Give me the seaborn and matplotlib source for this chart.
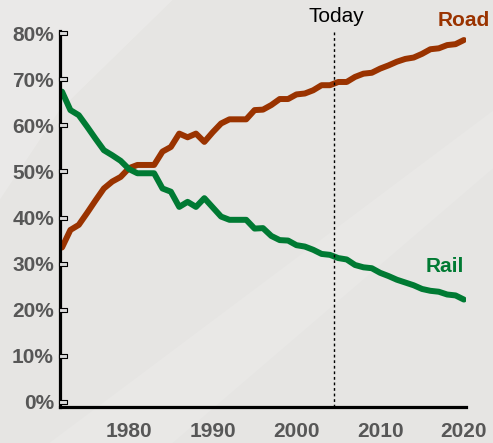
import numpy as np
import pandas as pd
import seaborn as sns
import matplotlib
matplotlib.use("Agg")
import matplotlib.pyplot as plt
from matplotlib import transforms
from matplotlib.patches import Polygon

# modal share of freight, yearly (percent)
years = list(range(1972, 2021))
road = [33.5, 37.3, 38.4, 41.0, 43.7, 46.3, 47.8, 48.8, 50.7, 51.4,
        51.4, 51.4, 54.3, 55.3, 58.2, 57.4, 58.2, 56.4, 58.5, 60.4,
        61.3, 61.3, 61.3, 63.3, 63.4, 64.4, 65.7, 65.7, 66.7, 66.9,
        67.6, 68.7, 68.7, 69.4, 69.4, 70.5, 71.2, 71.4, 72.3, 73.0,
        73.8, 74.4, 74.7, 75.5, 76.5, 76.7, 77.4, 77.6, 78.5]
rail = [67.3, 63.3, 62.2, 59.7, 57.1, 54.6, 53.5, 52.3, 50.5, 49.6,
        49.6, 49.6, 46.3, 45.6, 42.3, 43.4, 42.3, 44.2, 42.2, 40.2,
        39.5, 39.5, 39.5, 37.6, 37.7, 36.0, 35.1, 35.0, 34.0, 33.7,
        33.0, 32.1, 31.9, 31.2, 30.9, 29.7, 29.2, 29.0, 28.0, 27.3,
        26.5, 25.9, 25.3, 24.5, 24.1, 23.9, 23.3, 23.1, 22.2]
today_year = 2004.5
x_ticks = [1980, 1990, 2000, 2010, 2020]
y_ticks = [0, 10, 20, 30, 40, 50, 60, 70, 80]

ROAD_COLOR = "#9a3300"
RAIL_COLOR = "#007a33"
BG = "#e6e5e3"

df = pd.DataFrame({"year": years, "Road": road, "Rail": rail})
dfm = df.melt(id_vars=["year"], value_vars=["Road", "Rail"], var_name="mode")

sns.set_style("white")
plt.rcParams["font.family"] = ["Liberation Sans", "DejaVu Sans"]

fig = plt.figure(figsize=(4.93, 4.43), dpi=100, facecolor=BG)

# faint lighter swooshes in the background
fig.patches.append(Polygon([(0, 0.55), (0, 1), (0.35, 1), (0.12, 0.75)],
                           closed=True, transform=fig.transFigure,
                           facecolor="white", alpha=0.18, lw=0, zorder=-5))
fig.patches.append(Polygon([(0.1, 0), (0.35, 0), (1, 0.62), (1, 0.75)],
                           closed=True, transform=fig.transFigure,
                           facecolor="white", alpha=0.12, lw=0, zorder=-5))

ax = fig.add_axes([0.1207, 0.0813, 0.8245, 0.8476])
ax.set_facecolor("none")

sns.lineplot(data=dfm, x="year", y="value", hue="mode",
             palette={"Road": ROAD_COLOR, "Rail": RAIL_COLOR},
             linewidth=4.3, legend=False, ax=ax)

ax.set_xlim(1971.7, 2020.25)
ax.set_ylim(-1.1, 80.35)

# dotted "today" line
ax.axvline(today_year, ymin=0, ymax=1.0, color="black", lw=1,
           linestyle=(0, (2, 2)))
trans = transforms.blended_transform_factory(ax.transData, ax.transAxes)
ax.text(today_year + 0.3, 1.039, "Today", transform=trans, ha="center",
        va="center", fontsize=15, color="black", clip_on=False)

ax.text(2023.1, 82.8, "Road", ha="right", va="center", fontsize=15,
        fontweight="bold", color=ROAD_COLOR, clip_on=False)
ax.text(2017.7, 29.3, "Rail", ha="center", va="center", fontsize=15,
        fontweight="bold", color=RAIL_COLOR, clip_on=False)

# spines
for s in ["top", "right"]:
    ax.spines[s].set_visible(False)
for s in ["left", "bottom"]:
    ax.spines[s].set_color("black")
    ax.spines[s].set_linewidth(2.3)

ax.set_xticks(x_ticks)
ax.set_xticklabels([str(t) for t in x_ticks])
ax.set_yticks(y_ticks)
ax.set_yticklabels([f"{t}%" for t in y_ticks])
ax.tick_params(axis="both", length=0, labelsize=15, labelcolor="#575757")
ax.tick_params(axis="y", pad=4)
ax.tick_params(axis="x", pad=11)
for lbl in ax.get_xticklabels() + ax.get_yticklabels():
    lbl.set_fontweight("bold")

# small hollow tick boxes on the y axis
tick_trans = transforms.blended_transform_factory(ax.transAxes, ax.transData)
box = [(-1, -0.45), (1, -0.45), (1, 0.45), (-1, 0.45), (-1, -0.45)]
ax.scatter([0.008] * len(y_ticks), y_ticks, marker=box, s=28,
           facecolor="#dcdcdc", edgecolor="black", linewidth=0.8,
           transform=tick_trans, clip_on=False, zorder=5)

ax.set_xlabel("")
ax.set_ylabel("")
ax.grid(False)

fig.savefig("out.png", dpi=100, facecolor=BG)
